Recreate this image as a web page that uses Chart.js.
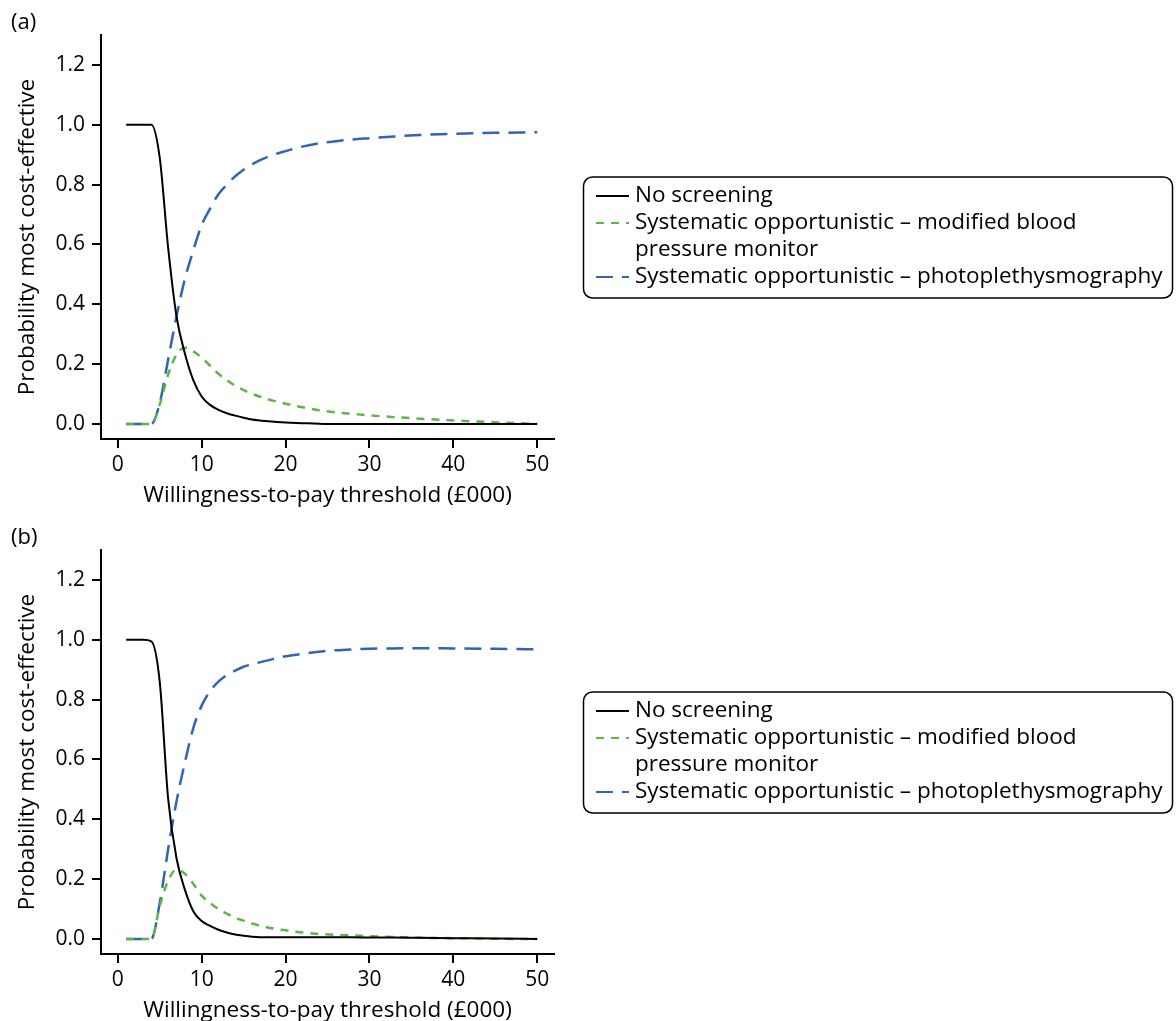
<!DOCTYPE html>
<html>
<head>
<meta charset="utf-8">
<script src="https://cdn.jsdelivr.net/npm/chart.js@4"></script>
<style>
  body { margin: 0; background: #fff; }
  .panel { position: absolute; left: 0; width: 1176px; height: 515px; }
</style>
</head>
<body>
<div class="panel" style="top:0"><canvas id="chartA" width="1176" height="515"></canvas></div>
<div class="panel" style="top:515px"><canvas id="chartB" width="1176" height="515"></canvas></div>
<script>
// willingness-to-pay thresholds (£000)
const wtp = [1, 2, 3, 4, 5, 6, 7, 8, 9, 10, 11, 12, 13, 14, 15, 16, 18, 20, 22, 24, 26, 28, 30, 33, 36, 40, 45, 50]

// (a) probability most cost-effective
const noScreenA = [1, 1, 1, 1, 0.89, 0.59, 0.36, 0.236, 0.147, 0.092, 0.064, 0.047, 0.036, 0.028, 0.021, 0.015, 0.009, 0.005, 0.003, 0.001, 0, 0, 0, 0, 0, 0, 0, 0]
const bpmA = [0, 0, 0, 0, 0.065, 0.165, 0.232, 0.255, 0.243, 0.222, 0.195, 0.168, 0.147, 0.128, 0.113, 0.101, 0.082, 0.068, 0.056, 0.046, 0.039, 0.034, 0.029, 0.023, 0.018, 0.012, 0.006, 0.001]
const ppgA = [0, 0, 0, 0, 0.07, 0.215, 0.36, 0.485, 0.58, 0.665, 0.72, 0.768, 0.8, 0.828, 0.85, 0.868, 0.894, 0.912, 0.927, 0.938, 0.945, 0.951, 0.955, 0.961, 0.966, 0.97, 0.973, 0.975]

// (b)
const noScreenB = [1, 1, 1, 0.995, 0.86, 0.47, 0.27, 0.165, 0.093, 0.06, 0.044, 0.031, 0.022, 0.015, 0.011, 0.008, 0.006, 0.006, 0.006, 0.006, 0.006, 0.006, 0.005, 0.005, 0.004, 0.003, 0.002, 0]
const bpmB = [0, 0, 0, 0, 0.11, 0.195, 0.232, 0.218, 0.185, 0.145, 0.12, 0.1, 0.085, 0.071, 0.061, 0.052, 0.038, 0.029, 0.022, 0.017, 0.014, 0.012, 0.009, 0.007, 0.004, 0.003, 0.001, 0]
const ppgB = [0, 0, 0, 0, 0.12, 0.3, 0.46, 0.59, 0.705, 0.78, 0.828, 0.86, 0.882, 0.897, 0.91, 0.918, 0.932, 0.945, 0.953, 0.96, 0.965, 0.968, 0.97, 0.971, 0.972, 0.971, 0.97, 0.968]

const seriesNames = ['No screening', 'Systematic opportunistic – modified blood pressure monitor', 'Systematic opportunistic – photoplethysmography']
const legendLines = [['No screening'], ['Systematic opportunistic – modified blood', 'pressure monitor'], ['Systematic opportunistic – photoplethysmography']]
const yTicks = { min: -0.05, max: 1.3, step: 0.2 }
const xTicks = { min: -2, max: 52, step: 10 }

const FONT = "'Open Sans', sans-serif"
Chart.defaults.font.family = FONT
Chart.defaults.color = '#000'

const styles = [
  { color: '#000000', width: 2, dash: [] },
  { color: '#5cb648', width: 2.5, dash: [8, 7] },
  { color: '#2f64b6', width: 2.5, dash: [17, 9] }
]

// panel tag and boxed legend, drawn on top of each chart
const panelDecor = {
  id: 'panelDecor',
  afterDraw(chart, args, opts) {
    const ctx = chart.ctx
    ctx.save()
    ctx.fillStyle = '#000'
    ctx.textBaseline = 'middle'
    ctx.font = '22px ' + FONT
    ctx.fillText(opts.tag, 11, 23)

    // legend box
    const bx = 583.5, by = 177, bw = 589, bh = 121, r = 9
    ctx.beginPath()
    ctx.moveTo(bx + r, by)
    ctx.arcTo(bx + bw, by, bx + bw, by + bh, r)
    ctx.arcTo(bx + bw, by + bh, bx, by + bh, r)
    ctx.arcTo(bx, by + bh, bx, by, r)
    ctx.arcTo(bx, by, bx + bw, by, r)
    ctx.closePath()
    ctx.lineWidth = 1.5
    ctx.strokeStyle = '#000'
    ctx.stroke()

    ctx.font = '22.5px ' + FONT
    let y = 196
    chart.data.datasets.forEach((ds, i) => {
      ctx.beginPath()
      ctx.setLineDash(ds.borderDash || [])
      ctx.strokeStyle = ds.borderColor
      ctx.lineWidth = 2
      ctx.moveTo(596, y)
      ctx.lineTo(629, y)
      ctx.stroke()
      ctx.setLineDash([])
      legendLines[i].forEach(line => {
        ctx.fillText(line, 635, y)
        y += 27
      })
    })
    ctx.restore()
  }
}

function makeChart(id, tag, series) {
  return new Chart(document.getElementById(id), {
    type: 'line',
    data: {
      datasets: series.map((vals, i) => ({
        label: seriesNames[i],
        data: wtp.map((x, j) => ({ x: x, y: vals[j] })),
        borderColor: styles[i].color,
        borderWidth: styles[i].width,
        borderDash: styles[i].dash,
        pointRadius: 0,
        cubicInterpolationMode: 'monotone',
        fill: false
      }))
    },
    options: {
      responsive: false,
      animation: false,
      layout: { padding: { left: 0, top: 35, right: 622, bottom: 0 } },
      plugins: {
        legend: { display: false },
        tooltip: { enabled: false },
        panelDecor: { tag: tag }
      },
      scales: {
        x: {
          type: 'linear',
          min: xTicks.min,
          max: xTicks.max,
          afterFit: s => { s.height = 76 },
          border: { display: true, color: '#000', width: 2 },
          grid: { drawOnChartArea: false, drawTicks: true, tickLength: 9, color: '#000', lineWidth: 2 },
          ticks: { stepSize: xTicks.step, includeBounds: false, padding: 4, maxRotation: 0, font: { size: 21 }, color: '#000' },
          title: { display: true, text: 'Willingness-to-pay threshold (£000)', font: { size: 22.5 }, padding: { top: 0, bottom: 6 }, color: '#000' }
        },
        y: {
          min: yTicks.min,
          max: yTicks.max,
          afterFit: s => { s.width = 101 },
          border: { display: true, color: '#000', width: 2 },
          grid: { drawOnChartArea: false, drawTicks: true, tickLength: 9, color: '#000', lineWidth: 2 },
          ticks: { stepSize: yTicks.step, includeBounds: false, padding: 7, font: { size: 21 }, color: '#000', callback: v => v.toFixed(1) },
          title: { display: true, text: 'Probability most cost-effective', font: { size: 22.5 }, padding: { top: 14, bottom: 0 }, color: '#000' }
        }
      }
    },
    plugins: [panelDecor]
  })
}

makeChart('chartA', '(a)', [noScreenA, bpmA, ppgA])
makeChart('chartB', '(b)', [noScreenB, bpmB, ppgB])
</script>
</body>
</html>
